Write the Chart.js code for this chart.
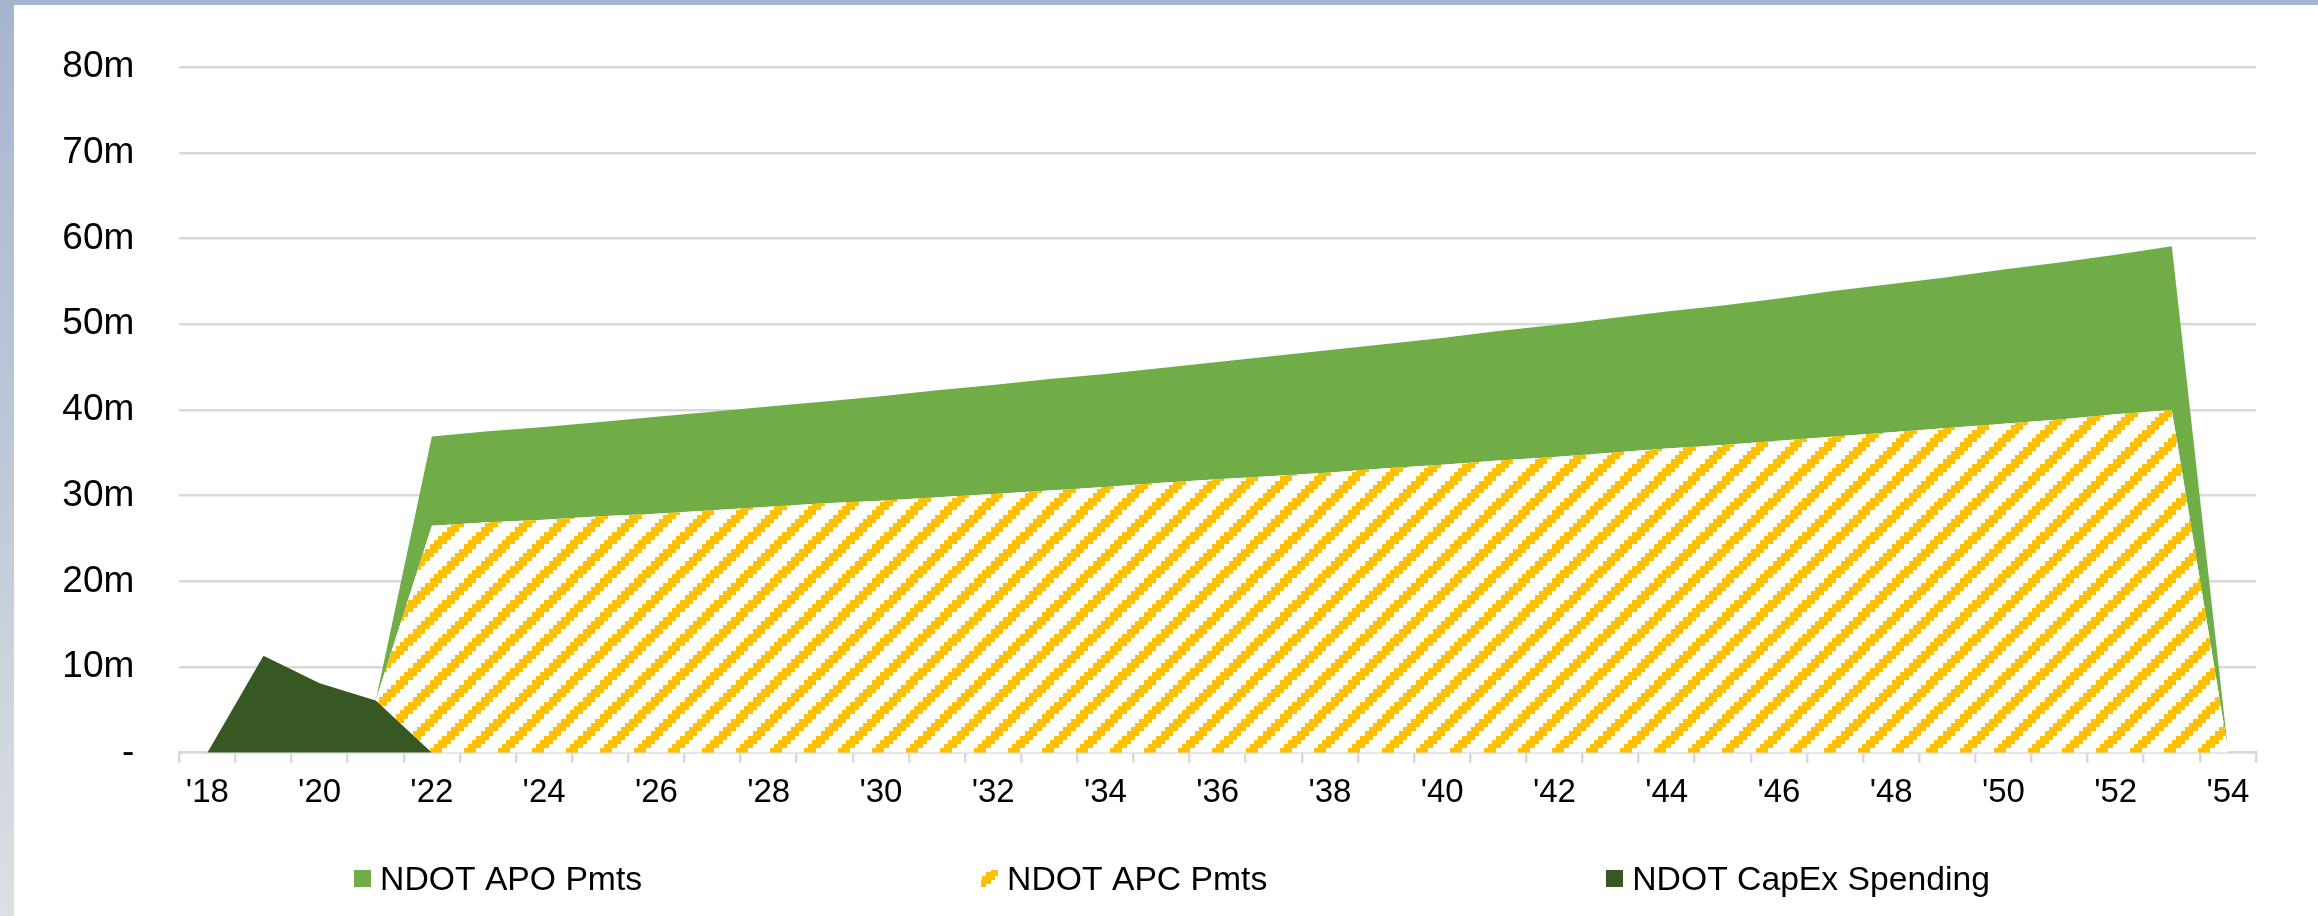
<!DOCTYPE html>
<html>
<head>
<meta charset="utf-8">
<title>NDOT Payments</title>
<script src="https://cdn.jsdelivr.net/npm/chart.js@4.4.1/dist/chart.umd.min.js"></script>
<style>
  html, body { margin: 0; padding: 0; width: 2318px; height: 916px; overflow: hidden; }
  body { position: relative; background: linear-gradient(180deg, #a6b5cf 0%, #c2cad9 55%, #dcdfe5 100%); }
  #card { position: absolute; left: 14px; top: 5px; right: 0; bottom: 0; background: #ffffff; }
  #chart { position: absolute; left: 0; top: 0; }
</style>
</head>
<body>
<div id="card"></div>
<canvas id="chart" width="2318" height="916"></canvas>
<script>
// Fiscal years shown on the category axis
const years = ["'18","'19","'20","'21","'22","'23","'24","'25","'26","'27","'28","'29","'30",
  "'31","'32","'33","'34","'35","'36","'37","'38","'39","'40","'41","'42","'43","'44",
  "'45","'46","'47","'48","'49","'50","'51","'52","'53","'54"];

// Series values in $ millions (stacked bottom to top: CapEx, APC, APO)
const capexSpending = [0, 11.3, 8.1, 6.1, 0,
  0, 0, 0, 0, 0, 0, 0, 0, 0, 0, 0, 0, 0, 0, 0, 0,
  0, 0, 0, 0, 0, 0, 0, 0, 0, 0, 0, 0, 0, 0, 0, 0];

const apcPmts = [0, 0, 0, 0,
  26.5, 26.9, 27.2, 27.6, 27.9, 28.3, 28.7, 29.1, 29.4, 29.8, 30.2, 30.6, 31.0, 31.5, 31.9, 32.3,
  32.7, 33.2, 33.6, 34.1, 34.5, 35.0, 35.5, 35.9, 36.4, 36.9, 37.4, 37.9, 38.4, 38.9, 39.5, 40.0,
  0.4];

const apoPmts = [0, 0, 0, 0,
  10.4, 10.6, 10.8, 11.0, 11.3, 11.5, 11.7, 11.9, 12.2, 12.5, 12.7, 13.0, 13.2, 13.4, 13.7, 14.0,
  14.3, 14.5, 14.8, 15.1, 15.4, 15.7, 16.0, 16.3, 16.6, 17.0, 17.3, 17.6, 18.0, 18.3, 18.6, 19.1,
  0];

// Value axis ticks ($m)
const yTicks = [0, 10, 20, 30, 40, 50, 60, 70, 80];

const seriesNames = ['NDOT APO Pmts', 'NDOT APC Pmts', 'NDOT CapEx Spending'];

const GREEN = '#70AD47';
const DARK_GREEN = '#385823';
const GOLD = [255, 192, 0];
const GRID = '#d9d9d9';
const FONT = '"Liberation Sans", Arial, Helvetica, sans-serif';

const canvas = document.getElementById('chart');
const ctx = canvas.getContext('2d');

// Wide upward-diagonal hatch: 8x8 cell pattern scaled to a 34px tile
function makeHatch() {
  const size = 34, cell = size / 8;
  const tile = document.createElement('canvas');
  tile.width = size; tile.height = size;
  const g = tile.getContext('2d');
  const img = g.createImageData(size, size);
  for (let y = 0; y < size; y++) {
    for (let x = 0; x < size; x++) {
      const s = (Math.floor(x / cell) + Math.floor(y / cell)) % 8;
      const i = (y * size + x) * 4;
      const on = s >= 5;
      img.data[i] = on ? GOLD[0] : 255;
      img.data[i + 1] = on ? GOLD[1] : 255;
      img.data[i + 2] = on ? GOLD[2] : 255;
      img.data[i + 3] = 255;
    }
  }
  g.putImageData(img, 0, 0);
  return ctx.createPattern(tile, 'repeat');
}
const hatch = makeHatch();

// Legend row under the plot, drawn with even gaps between entries
const bottomLegend = {
  id: 'bottomLegend',
  afterDraw(chart) {
    const c = chart.ctx;
    const fills = { 'NDOT APO Pmts': GREEN, 'NDOT APC Pmts': hatch, 'NDOT CapEx Spending': DARK_GREEN };
    c.save();
    c.font = '33.7px ' + FONT;
    c.textBaseline = 'alphabetic';
    c.fillStyle = '#000';
    const box = 17, textGap = 9, itemGap = 339;
    const widths = seriesNames.map(n => box + textGap + c.measureText(n).width);
    const total = widths.reduce((a, b) => a + b, 0) + itemGap * (seriesNames.length - 1);
    let x = 1172 - total / 2;
    seriesNames.forEach((name, i) => {
      c.fillStyle = fills[name];
      c.fillRect(Math.round(x), 870, box, box);
      c.fillStyle = '#000';
      c.fillText(name, x + box + textGap, 890);
      x += widths[i] + itemGap;
    });
    c.restore();
  }
};

Chart.defaults.font.family = FONT;

new Chart(ctx, {
  type: 'line',
  data: {
    labels: years,
    datasets: [
      { label: seriesNames[2], data: capexSpending, backgroundColor: DARK_GREEN, fill: 'origin' },
      { label: seriesNames[1], data: apcPmts, backgroundColor: hatch, fill: '-1' },
      { label: seriesNames[0], data: apoPmts, backgroundColor: GREEN, fill: '-1' }
    ]
  },
  options: {
    responsive: false,
    animation: false,
    elements: {
      line: { borderWidth: 0, tension: 0, borderColor: 'rgba(0,0,0,0)' },
      point: { radius: 0, hoverRadius: 0 }
    },
    layout: { padding: { left: 0, top: 61.3, right: 62, bottom: 93.3 } },
    plugins: { legend: { display: false }, tooltip: { enabled: false } },
    scales: {
      x: {
        type: 'category',
        offset: true,
        stacked: true,
        grid: { offset: true, drawOnChartArea: false, drawTicks: true, tickLength: 10, color: GRID, lineWidth: 2.5 },
        border: { display: true, color: GRID, width: 2.5 },
        ticks: {
          autoSkip: false, maxRotation: 0, minRotation: 0, padding: 10,
          color: '#000', font: { size: 33 },
          callback(value, index) { return index % 2 === 0 ? this.getLabelForValue(value) : ''; }
        },
        afterFit(scale) { scale.height = 70; }
      },
      y: {
        stacked: true,
        min: yTicks[0],
        max: yTicks[yTicks.length - 1],
        afterBuildTicks(scale) { scale.ticks = yTicks.map(v => ({ value: v })); },
        grid: { color: GRID, lineWidth: 2.5, drawTicks: false },
        border: { display: false },
        ticks: {
          padding: 45, color: '#000', font: { size: 37 },
          callback: v => (v === 0 ? '-' : v + 'm')
        },
        afterFit(scale) { scale.width = 179.3; }
      }
    }
  },
  plugins: [bottomLegend]
});
</script>
</body>
</html>
